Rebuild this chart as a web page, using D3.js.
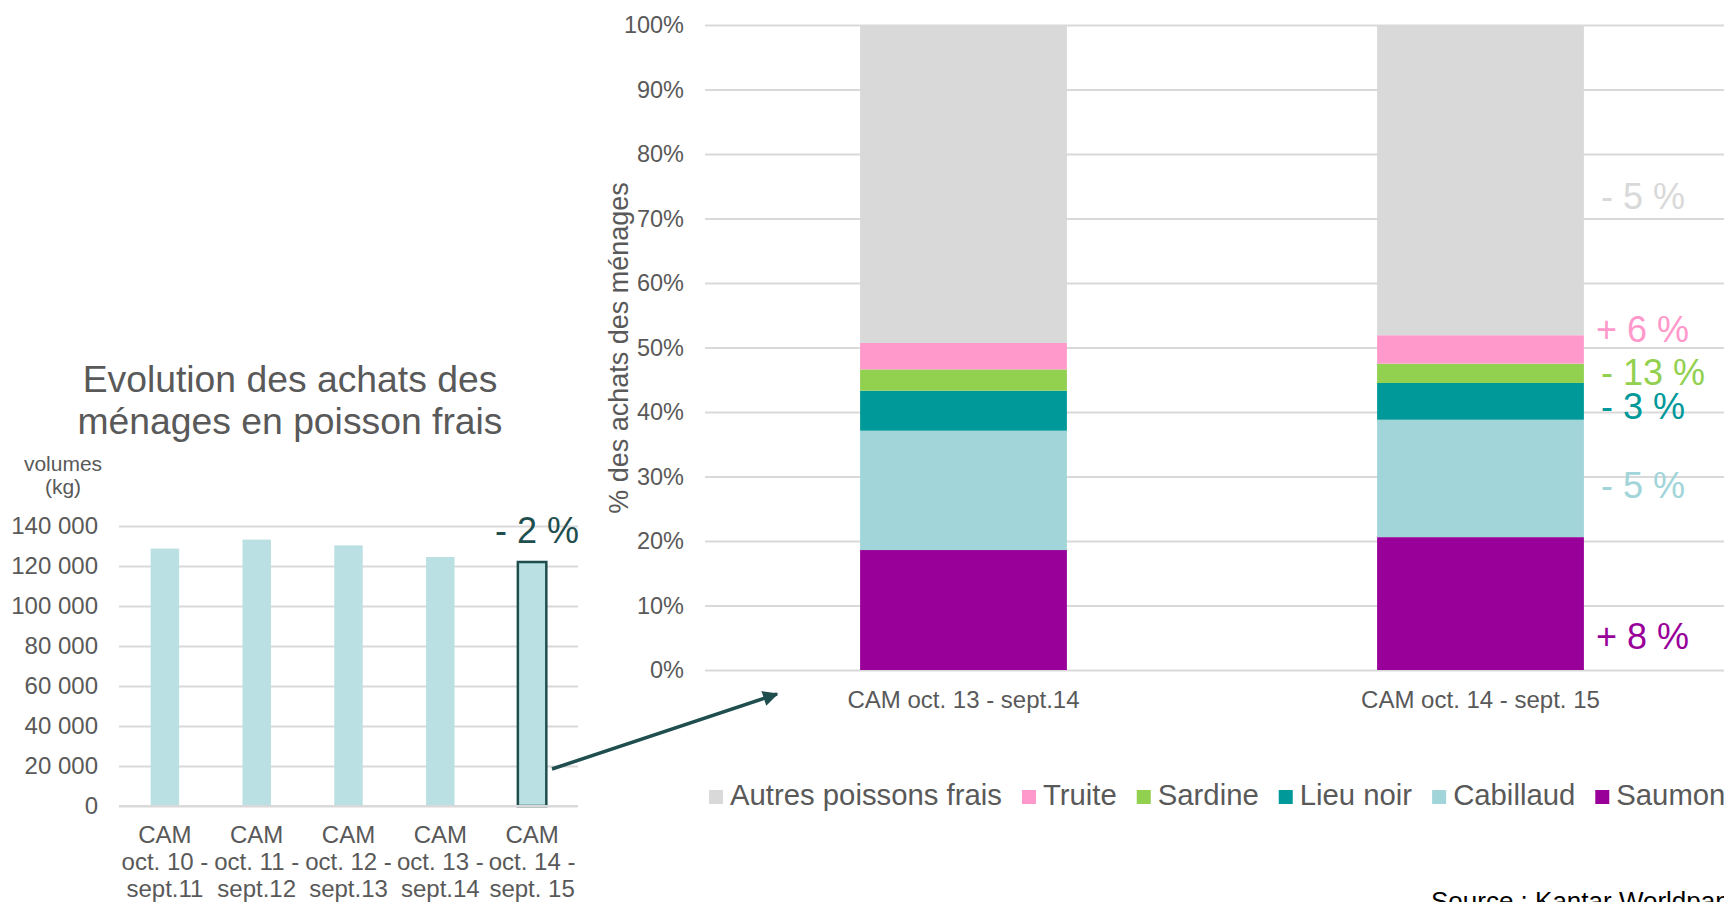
<!DOCTYPE html>
<html><head><meta charset="utf-8">
<script src="https://cdn.jsdelivr.net/npm/d3@7"></script>
<style>
html,body{margin:0;padding:0;background:#fff;overflow:hidden}
svg{display:block;font-family:"Liberation Sans",Arial,Helvetica,sans-serif}
</style></head><body>
<svg id="chart" width="1724" height="902"></svg>
<script>
// ---------- DATA ----------
const volumeCategories = ["CAM|oct. 10 -|sept.11", "CAM|oct. 11 -|sept.12", "CAM|oct. 12 -|sept.13", "CAM|oct. 13 -|sept.14", "CAM|oct. 14 -|sept. 15"];
const volumes = [128700, 133200, 130300, 124500, 122000];
const volumeTicks = [0, 20000, 40000, 60000, 80000, 100000, 120000, 140000];
const volumeChange = "- 2 %";

const periods = ["CAM oct. 13 - sept.14", "CAM oct. 14 - sept. 15"];
const species = ["Saumon", "Cabillaud", "Lieu noir", "Sardine", "Truite", "Autres poissons frais"];
const saumon = [18.6, 20.6];
const cabillaud = [18.5, 18.2];
const lieuNoir = [6.2, 5.7];
const sardine = [3.3, 3.0];
const truite = [4.1, 4.4];
const autres = [49.3, 48.1];
const shareTicks = [0, 10, 20, 30, 40, 50, 60, 70, 80, 90, 100];
const evolutions = ["+ 8 %", "- 5 %", "- 3 %", "- 13 %", "+ 6 %", "- 5 %"];
const legendOrder = ["Autres poissons frais", "Truite", "Sardine", "Lieu noir", "Cabillaud", "Saumon"];

// ---------- STYLE ----------
const colors = {
  "Saumon": "#990099", "Cabillaud": "#a1d5d9", "Lieu noir": "#009999",
  "Sardine": "#92d050", "Truite": "#ff99cc", "Autres poissons frais": "#d9d9d9"
};
const txt = "#595959", grid = "#d9d9d9", dark = "#1f4e4e";

const svg = d3.select("#chart");

// ---------- LEFT CHART ----------
const xL = d3.scaleBand().domain(volumeCategories).range([119, 578]).paddingInner(0.69).paddingOuter(0.345);
const yL = d3.scaleLinear().domain([0, 140000]).range([806, 526]);
const fr = d3.formatLocale({decimal: ",", thousands: "\u00a0", grouping: [3], currency: ["", " €"]});
const fmtVol = fr.format(",d");

const gL = svg.append("g");
const axL = gL.append("g").attr("transform", "translate(119,0)")
  .call(d3.axisLeft(yL).tickValues(volumeTicks).tickSize(-459).tickPadding(21).tickFormat(fmtVol));
axL.select(".domain").remove();
axL.selectAll(".tick line").attr("stroke", grid).attr("stroke-width", 2);
axL.selectAll(".tick text").attr("fill", txt).style("font-size", "24px").style("font-family", "inherit");

gL.selectAll("rect.vol").data(volumes).join("rect")
  .attr("class", "vol")
  .attr("x", (d, i) => xL(volumeCategories[i]))
  .attr("width", xL.bandwidth())
  .attr("y", d => yL(d))
  .attr("height", d => yL(0) - yL(d))
  .attr("fill", "#bae0e3")
  .attr("stroke", (d, i) => i === volumes.length - 1 ? dark : "none")
  .attr("stroke-width", 2.5);

gL.append("line").attr("x1", 119).attr("x2", 578).attr("y1", yL(0)).attr("y2", yL(0))
  .attr("stroke", grid).attr("stroke-width", 2);

const axLB = gL.append("g").attr("transform", `translate(0,${yL(0)})`)
  .call(d3.axisBottom(xL).tickSize(0).tickFormat(""));
axLB.select(".domain").remove();
axLB.selectAll(".tick").each(function(d) {
  const t = d3.select(this).append("text").attr("fill", txt).attr("text-anchor", "middle")
    .style("font-size", "24px");
  d.split("|").forEach((line, k) => {
    t.append("tspan").attr("x", 0).attr("y", 37 + k * 27).text(line);
  });
});

// title
const title = gL.append("text").attr("x", 291).attr("text-anchor", "middle").attr("fill", txt).style("font-size", "37.3px");
title.append("tspan").attr("x", 290).attr("y", 392).text("Evolution des achats des");
title.append("tspan").attr("x", 290).attr("y", 434).text("ménages en poisson frais");

const unit = gL.append("text").attr("text-anchor", "middle").attr("fill", txt).style("font-size", "21px");
unit.append("tspan").attr("x", 63).attr("y", 471).text("volumes");
unit.append("tspan").attr("x", 63).attr("y", 494).text("(kg)");

gL.append("text").attr("x", 495).attr("y", 543).attr("fill", dark).style("font-size", "36px").text(volumeChange);

// ---------- RIGHT CHART ----------
const xR = d3.scaleBand().domain(periods).range([705, 1739]).paddingInner(0.6).paddingOuter(0.3);
const yR = d3.scaleLinear().domain([0, 100]).range([670, 25]);

const gR = svg.append("g");
const axR = gR.append("g").attr("transform", "translate(705,0)")
  .call(d3.axisLeft(yR).tickValues(shareTicks).tickSize(-1040).tickPadding(21).tickFormat(d => d + "%"));
axR.select(".domain").remove();
axR.selectAll(".tick line").attr("stroke", grid).attr("stroke-width", 2);
axR.selectAll(".tick text").attr("fill", txt).style("font-size", "23.5px").style("font-family", "inherit");

const seriesValues = [saumon, cabillaud, lieuNoir, sardine, truite, autres];
const rows = periods.map((p, i) => {
  const r = {period: p};
  species.forEach((s, k) => r[s] = seriesValues[k][i]);
  return r;
});
const stacked = d3.stack().keys(species)(rows);

gR.selectAll("g.layer").data(stacked).join("g").attr("class", "layer")
  .attr("fill", d => colors[d.key])
  .selectAll("rect").data(d => d).join("rect")
  .attr("x", d => xR(d.data.period))
  .attr("width", xR.bandwidth())
  .attr("y", d => yR(d[1]))
  .attr("height", d => yR(d[0]) - yR(d[1]));

const axRB = gR.append("g").attr("transform", `translate(0,${yR(0)})`)
  .call(d3.axisBottom(xR).tickSize(0).tickPadding(21));
axRB.select(".domain").remove();
axRB.selectAll(".tick text").attr("fill", txt).style("font-size", "24px").style("font-family", "inherit");

gR.append("text").attr("transform", `translate(628,348) rotate(-90)`).attr("text-anchor", "middle")
  .attr("fill", txt).style("font-size", "27px").text("% des achats des ménages");

// evolution labels next to the second bar
const labelDy = [45, 20, 18, 12, -7, 29];
const lastX = xR(periods[1]) + xR.bandwidth();
stacked.forEach((layer, k) => {
  const seg = layer[1];
  const plus = evolutions[k].startsWith("+");
  gR.append("text")
    .attr("x", lastX + (plus ? 12 : 17))
    .attr("y", yR((seg[0] + seg[1]) / 2) + labelDy[k])
    .attr("fill", colors[layer.key])
    .style("font-size", "36px")
    .text(evolutions[k]);
});

// legend
const lg = svg.append("g");
let lx = 709;
legendOrder.forEach(name => {
  lg.append("rect").attr("x", lx).attr("y", 790).attr("width", 14).attr("height", 14).attr("fill", colors[name]);
  const t = lg.append("text").attr("x", lx + 21).attr("y", 805).attr("fill", txt).style("font-size", "29.3px").text(name);
  lx += 21 + t.node().getComputedTextLength() + 20;
});

// arrow
const defs = svg.append("defs");
defs.append("marker").attr("id", "arr").attr("viewBox", "0 0 10 10").attr("refX", 9).attr("refY", 5)
  .attr("markerWidth", 5).attr("markerHeight", 4.4).attr("orient", "auto").attr("markerUnits", "strokeWidth")
  .append("path").attr("d", "M0,0 L10,5 L0,10 Z").attr("fill", dark);
svg.append("line").attr("x1", 552).attr("y1", 769).attr("x2", 777).attr("y2", 694)
  .attr("stroke", dark).attr("stroke-width", 3.5).attr("marker-end", "url(#arr)");

// source
svg.append("text").attr("x", 1431).attr("y", 910).attr("fill", "#000").style("font-size", "26px")
  .text("Source : Kantar Worldpanel");
</script>
</body></html>
